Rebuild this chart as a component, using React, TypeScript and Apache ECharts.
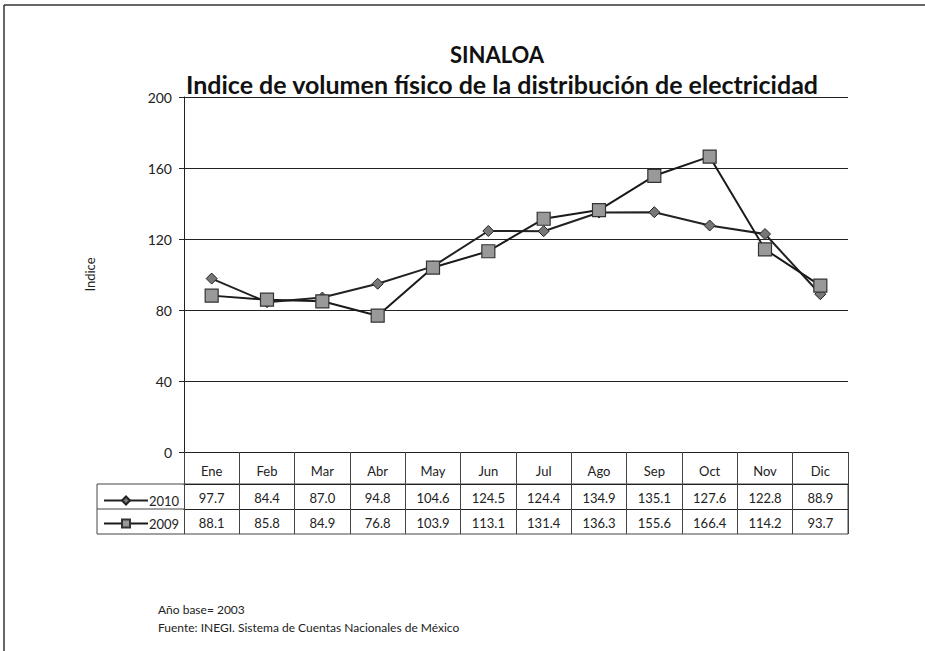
import React, { useEffect, useRef } from "react";
import * as echarts from "echarts";

const months = ["Ene", "Feb", "Mar", "Abr", "May", "Jun", "Jul", "Ago", "Sep", "Oct", "Nov", "Dic"];
const values2010 = [97.7, 84.4, 87.0, 94.8, 104.6, 124.5, 124.4, 134.9, 135.1, 127.6, 122.8, 88.9];
const values2009 = [88.1, 85.8, 84.9, 76.8, 103.9, 113.1, 131.4, 136.3, 155.6, 166.4, 114.2, 93.7];
const seriesNames = ["2010", "2009"];
const yTicks = { min: 0, max: 200, interval: 40 };

const FONT = "Lato, 'Open Sans', sans-serif";
const INK = "#222";

export default function App() {
  const ref = useRef<HTMLDivElement>(null);
  useEffect(() => {
    document.body.style.margin = "0";
    const chart = echarts.init(ref.current!, null, { renderer: "svg" });
    const offsets = [0, 32, 57];
    const tickLens = [32, 25, 25];
    const tableAxis = (idx: number, data: string[]) => ({
      type: "category",
      gridIndex: 0,
      position: "bottom",
      offset: offsets[idx],
      data,
      boundaryGap: true,
      axisLine: { show: true, onZero: false, lineStyle: { color: INK, width: 1 } },
      axisTick: {
        show: true,
        interval: 0,
        alignWithLabel: false,
        length: tickLens[idx],
        lineStyle: { color: "#444", width: 1 },
      },
      axisLabel: {
        interval: 0,
        margin: idx === 0 ? 12 : 7,
        fontFamily: FONT,
        fontSize: 13,
        color: "#222",
      },
      splitLine: { show: false },
    });
    chart.setOption({
      animation: false,
      backgroundColor: "#fff",
      title: [
        {
          text: "SINALOA",
          left: 492,
          top: 38,
          textAlign: "center",
          textStyle: { fontFamily: FONT, fontWeight: "bold", fontSize: 22, color: "#111" },
        },
        {
          text: "Indice de volumen físico de la distribución de electricidad",
          left: 497,
          top: 66,
          textAlign: "center",
          textStyle: { fontFamily: FONT, fontWeight: "bold", fontSize: 25, color: "#111" },
        },
      ],
      grid: { left: 184, right: 77, top: 97, bottom: 199 },
      legend: {
        orient: "vertical",
        left: 98,
        top: 489,
        itemGap: 10,
        itemWidth: 44,
        itemHeight: 10,
        data: seriesNames,
        textStyle: { fontFamily: FONT, fontSize: 13, color: "#222", padding: [0, 0, 0, -4] },
      },
      xAxis: [
        tableAxis(0, months),
        tableAxis(1, values2010.map((v) => v.toFixed(1))),
        tableAxis(2, values2009.map((v) => v.toFixed(1))),
      ],
      yAxis: {
        type: "value",
        min: yTicks.min,
        max: yTicks.max,
        interval: yTicks.interval,
        name: "Indice",
        nameLocation: "middle",
        nameRotate: 90,
        nameGap: 88,
        nameTextStyle: { fontFamily: FONT, fontSize: 13, color: "#222" },
        axisLine: { show: true, lineStyle: { color: INK, width: 1 } },
        axisTick: { show: true, length: 5, lineStyle: { color: INK } },
        axisLabel: { margin: 12, fontFamily: FONT, fontSize: 14, color: "#222" },
        splitLine: { show: true, lineStyle: { color: "#222", width: 1 } },
      },
      series: [
        {
          name: seriesNames[0],
          type: "line",
          xAxisIndex: 0,
          data: values2010,
          symbol: "diamond",
          symbolSize: 11,
          lineStyle: { color: "#222", width: 2 },
          itemStyle: { color: "#777", borderColor: "#222", borderWidth: 1 },
        },
        {
          name: seriesNames[1],
          type: "line",
          xAxisIndex: 0,
          data: values2009,
          symbol: "rect",
          symbolSize: 13,
          lineStyle: { color: "#1a1a1a", width: 2 },
          itemStyle: { color: "#999", borderColor: "#333", borderWidth: 1.2 },
        },
      ],
      graphic: [
        { type: "line", shape: { x1: 4, y1: 5, x2: 925, y2: 5 }, style: { stroke: "#333", lineWidth: 1.5 } },
        { type: "line", shape: { x1: 4, y1: 5, x2: 4, y2: 651 }, style: { stroke: "#333", lineWidth: 1.5 } },
        { type: "rect", shape: { x: 97, y: 484, width: 751, height: 50 }, style: { fill: "none", stroke: "#444", lineWidth: 1 } },
        { type: "line", shape: { x1: 97, y1: 509, x2: 184, y2: 509 }, style: { stroke: "#444", lineWidth: 1 } },
        {
          type: "text",
          x: 158,
          y: 603,
          style: { text: "Año base= 2003", fontFamily: FONT, fontSize: 12, fill: "#222" },
        },
        {
          type: "text",
          x: 158,
          y: 621,
          style: {
            text: "Fuente: INEGI. Sistema de Cuentas Nacionales de México",
            fontFamily: FONT,
            fontSize: 12,
            fill: "#222",
          },
        },
      ],
    });
    return () => chart.dispose();
  }, []);
  return <div ref={ref} style={{ width: 925, height: 651 }} />;
}
